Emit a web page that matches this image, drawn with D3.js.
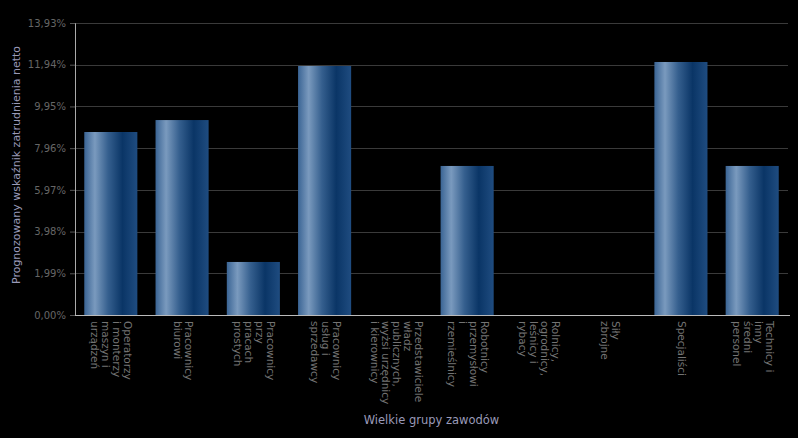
<!DOCTYPE html>
<html>
<head>
<meta charset="utf-8">
<script src="https://cdn.jsdelivr.net/npm/d3@7"></script>
<style>
html,body{margin:0;padding:0;background:#000;}
svg{display:block;}
</style>
</head>
<body>
<svg id="chart" width="798" height="438"></svg>
<script>
const categories = [
  "Operatorzy|i monterzy|maszyn i|urządzeń",
  "Pracownicy|biurowi",
  "Pracownicy|przy|pracach|prostych",
  "Pracownicy|usług i|sprzedawcy",
  "Przedstawiciele|władz|publicznych,|wyżsi urzędnicy|i kierownicy",
  "Robotnicy|przemysłowi|i|rzemieślnicy",
  "Rolnicy,|ogrodnicy,|leśnicy i|rybacy",
  "Siły|zbrojne",
  "Specjaliści",
  "Technicy i|inny|średni|personel"
];
const values = [8.73, 9.30, 2.53, 11.88, 0, 7.11, 0, 0, 12.07, 7.11];
const yTicks = [0, 1.99, 3.98, 5.97, 7.96, 9.95, 11.94, 13.93];
const yMax = 13.93;
const yTitle = "Prognozowany wskaźnik zatrudnienia netto";
const xTitle = "Wielkie grupy zawodów";

const svg = d3.select("#chart");
const W = 798, H = 438;
const m = {left: 75, right: 10, top: 23, bottom: 123};
const iw = W - m.left - m.right, ih = H - m.top - m.bottom;

svg.append("rect").attr("width", W).attr("height", H).attr("fill", "#000");

const defs = svg.append("defs");
const grad = defs.append("linearGradient").attr("id", "barGrad")
  .attr("x1", "0%").attr("x2", "100%").attr("y1", "0%").attr("y2", "0%");
[["0%", "#3a6494"], ["20%", "#7a9abe"], ["45%", "#355f8e"], ["72%", "#0a3566"], ["100%", "#1f4c80"]]
  .forEach(([o, c]) => grad.append("stop").attr("offset", o).attr("stop-color", c));

const x = d3.scaleBand().domain(d3.range(categories.length)).range([0, iw]).paddingInner(0.255).paddingOuter(0.13);
const y = d3.scaleLinear().domain([0, yMax]).range([ih, 0]);

const g = svg.append("g").attr("transform", `translate(${m.left},${m.top})`);

// grid
g.append("g").selectAll("line").data(yTicks.slice(1)).join("line")
  .attr("x1", 0).attr("x2", iw)
  .attr("y1", d => Math.round(y(d)) + 0.5).attr("y2", d => Math.round(y(d)) + 0.5)
  .attr("stroke", "#3a3a3a").attr("stroke-width", 1);

// bars
g.append("g").selectAll("rect").data(values).join("rect")
  .attr("x", (d, i) => x(i)).attr("width", x.bandwidth())
  .attr("y", d => y(d)).attr("height", d => ih - y(d))
  .attr("fill", "url(#barGrad)");

// y axis
const yAxis = d3.axisLeft(y).tickValues(yTicks).tickSize(5).tickPadding(4)
  .tickFormat(d => d.toFixed(2).replace(".", ",") + "%");
const ya = g.append("g").call(yAxis);
ya.select(".domain").attr("stroke", "#aaaaaa");
ya.selectAll(".tick line").attr("stroke", "#555");
ya.selectAll(".tick text").attr("fill", "#666").attr("font-family", "DejaVu Sans, sans-serif").attr("font-size", "10px");

// x axis line
g.append("line").attr("x1", 0).attr("x2", iw + 2).attr("y1", ih + 0.5).attr("y2", ih + 0.5)
  .attr("stroke", "#bbbbbb").attr("stroke-width", 1);

// x labels rotated 90
const lh = 11;
const xl = g.append("g").attr("font-family", "DejaVu Sans, sans-serif").attr("font-size", "10.5px").attr("fill", "#747474");
categories.forEach((c, i) => {
  const lines = c.split("|");
  const cx = x(i) + x.bandwidth() / 2;
  const offset = (lines.length - 1) * lh / 2;
  const t = xl.append("text")
    .attr("transform", `translate(${cx + offset - 3},${ih + 6}) rotate(90)`);
  lines.forEach((ln, k) => {
    t.append("tspan").attr("x", 0).attr("y", k * lh).text(ln);
  });
});

// titles
svg.append("text").attr("x", m.left + iw / 2).attr("y", 424)
  .attr("text-anchor", "middle").attr("font-family", "DejaVu Sans, sans-serif").attr("font-size", "11.5px")
  .attr("fill", "#9a9ab8").text(xTitle);
svg.append("text").attr("transform", `translate(20,${m.top + ih / 2 - 4}) rotate(-90)`)
  .attr("text-anchor", "middle").attr("font-family", "DejaVu Sans, sans-serif").attr("font-size", "11px")
  .attr("fill", "#9a9ab8").text(yTitle);
</script>
</body>
</html>
